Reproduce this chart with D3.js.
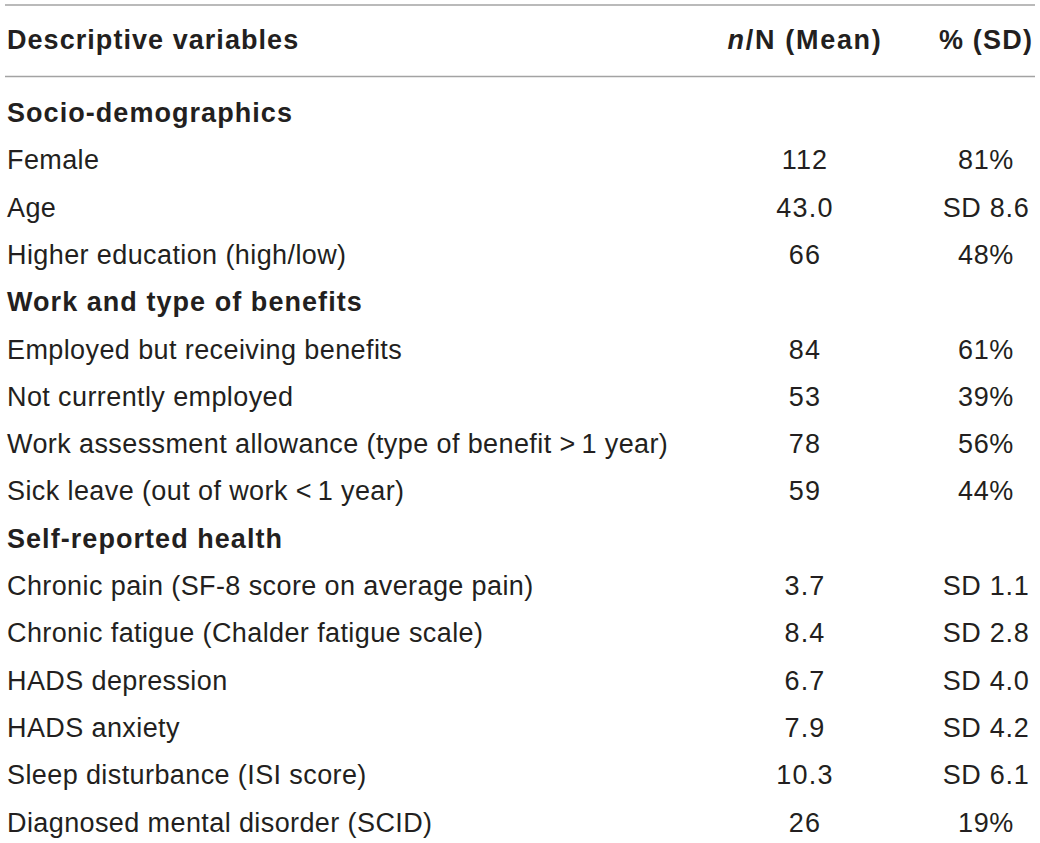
<!DOCTYPE html>
<html>
<head>
<meta charset="utf-8">
<script src="https://cdn.jsdelivr.net/npm/d3@7"></script>
<style>
  body { margin: 0; background: #fff; }
  text { font-family: "Liberation Sans", Arial, Helvetica, sans-serif; fill: #231f20; }
</style>
</head>
<body>
<svg id="table" width="1040" height="843"></svg>
<script>
// table content
let headers = ["Descriptive variables", "n/N (Mean)", "% (SD)"];
let rowLabels = [
    "Socio-demographics",
    "Female",
    "Age",
    "Higher education (high/low)",
    "Work and type of benefits",
    "Employed but receiving benefits",
    "Not currently employed",
    "Work assessment allowance (type of benefit >\u20091 year)",
    "Sick leave (out of work <\u20091 year)",
    "Self-reported health",
    "Chronic pain (SF-8 score on average pain)",
    "Chronic fatigue (Chalder fatigue scale)",
    "HADS depression",
    "HADS anxiety",
    "Sleep disturbance (ISI score)",
    "Diagnosed mental disorder (SCID)"
];
let sectionRows = ["Socio-demographics", "Work and type of benefits", "Self-reported health"];
let meanValues = ["", "112", "43.0", "66", "", "84", "53", "78", "59", "", "3.7", "8.4", "6.7", "7.9", "10.3", "26"];
let pctValues = ["", "81%", "SD 8.6", "48%", "", "61%", "39%", "56%", "44%", "", "SD 1.1", "SD 2.8", "SD 4.0", "SD 4.2", "SD 6.1", "19%"];

let svg = d3.select("#table"),
    margin = {left: 5, right: 5},
    width = +svg.attr("width") - margin.left - margin.right;

let fontSize = 27;

// rows placed by baseline
let scaleY = d3.scalePoint()
    .domain(d3.range(rowLabels.length))
    .range([122, 831.5]);

let colX = {label: 7, mean: 805, pct: 986};

// rules
let rules = [5, 76.5];
svg.append("g").selectAll("line")
    .data(rules)
    .enter().append("line")
    .attr("x1", margin.left)
    .attr("x2", margin.left + width)
    .attr("y1", d => d)
    .attr("y2", d => d)
    .attr("stroke", "#a3a3a3")
    .attr("stroke-width", 1.6);

// header
let head = svg.append("g")
    .attr("font-size", fontSize)
    .attr("font-weight", "bold")
    .attr("letter-spacing", 1.05);

head.append("text")
    .attr("x", colX.label)
    .attr("y", 49)
    .text(headers[0]);

let meanHead = head.append("text")
    .attr("x", colX.mean)
    .attr("y", 49)
    .attr("text-anchor", "middle")
    .attr("letter-spacing", 1.7);
meanHead.append("tspan").attr("font-style", "italic").text("n");
meanHead.append("tspan").text(headers[1].slice(1));

head.append("text")
    .attr("x", colX.pct)
    .attr("y", 49)
    .attr("text-anchor", "middle")
    .attr("letter-spacing", 1.2)
    .text(headers[2]);

// body rows
let rows = svg.append("g")
    .attr("font-size", fontSize)
    .selectAll("g")
    .data(rowLabels)
    .enter().append("g")
    .attr("transform", (d, i) => "translate(0," + scaleY(i) + ")");

rows.append("text")
    .attr("x", colX.label)
    .attr("font-weight", d => sectionRows.includes(d) ? "bold" : "normal")
    .attr("letter-spacing", d => sectionRows.includes(d) ? 1.05 : 0.4)
    .text(d => d);

rows.append("text")
    .attr("x", colX.mean)
    .attr("text-anchor", "middle")
    .attr("letter-spacing", 1.2)
    .text((d, i) => meanValues[i]);

rows.append("text")
    .attr("x", colX.pct)
    .attr("text-anchor", "middle")
    .attr("letter-spacing", 0.7)
    .text((d, i) => pctValues[i]);
</script>
</body>
</html>
